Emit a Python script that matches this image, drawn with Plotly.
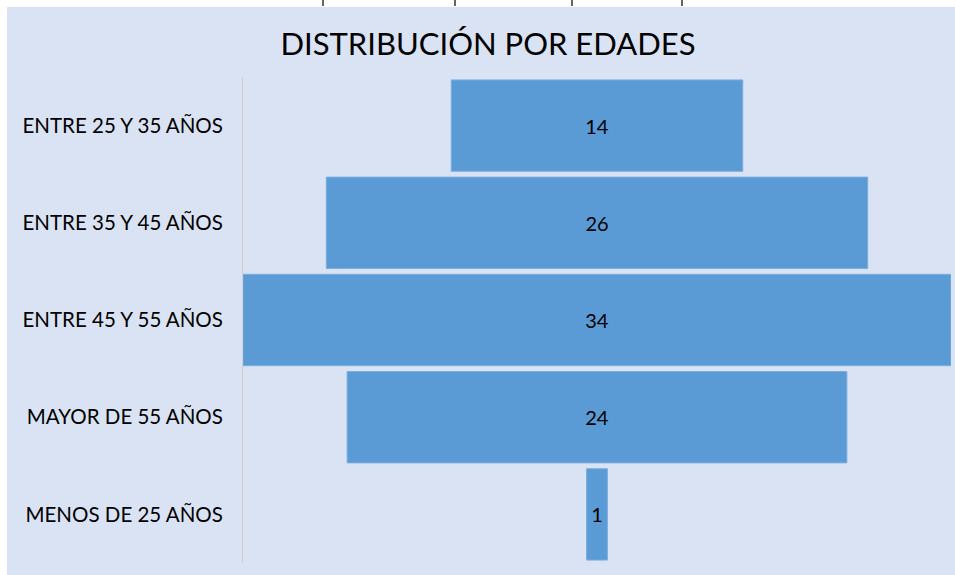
import plotly.graph_objects as go

categories = ["ENTRE 25 Y 35 AÑOS", "ENTRE 35 Y 45 AÑOS", "ENTRE 45 Y 55 AÑOS",
              "MAYOR DE 55 AÑOS", "MENOS DE 25 AÑOS"]
values = [14, 26, 34, 24, 1]
title_text = "DISTRIBUCIÓN POR EDADES"

W, H = 955, 575
L, R, T, B = 243, 4, 77, 12
pw, ph = W - L - R, H - T - B

def px_x(p):
    return (p - L) / pw

def px_y(p):
    return (H - B - p) / ph

fig = go.Figure(go.Funnel(
    y=categories,
    x=values,
    textinfo="value",
    textposition="inside",
    insidetextfont=dict(color="black", size=20, family="Lato"),
    marker=dict(color="#5b9bd5", line=dict(color="#7aaee0", width=1)),
    connector=dict(visible=False),
    hoverinfo="y+x",
))

shapes = [
    dict(type="rect", xref="paper", yref="paper", x0=px_x(0), x1=px_x(W),
         y0=px_y(0), y1=px_y(7), fillcolor="white", line=dict(width=0), layer="above"),
    dict(type="rect", xref="paper", yref="paper", x0=px_x(0), x1=px_x(7),
         y0=px_y(H), y1=px_y(0), fillcolor="white", line=dict(width=0), layer="above"),
]
for tx in [323, 455, 572, 682]:
    shapes.append(dict(type="line", xref="paper", yref="paper", x0=px_x(tx), x1=px_x(tx),
                       y0=px_y(6), y1=px_y(0), line=dict(color="#333333", width=1.5), layer="above"))

fig.update_layout(
    width=W, height=H,
    margin=dict(l=L, r=R, t=T, b=B, pad=0),
    paper_bgcolor="#dae3f3",
    plot_bgcolor="#dae3f3",
    title=dict(text=title_text, x=px_x(488), xanchor="center", xref="paper",
               y=1 - 44 / H, yanchor="middle",
               font=dict(family="Lato", size=31, color="black")),
    funnelgap=0.06,
    showlegend=False,
    shapes=shapes,
    font=dict(family="Lato"),
)
fig.update_xaxes(range=[-17, 17], visible=False, fixedrange=True)
fig.update_yaxes(showline=True, linecolor="#d0d0d0", linewidth=1, ticks="",
                 tickfont=dict(family="Lato", size=20.5, color="black"),
                 ticklabelstandoff=15, showgrid=False, fixedrange=True)

fig.write_html("out.html", config={"displayModeBar": False},
               post_script="document.body.style.margin='0';document.body.style.padding='0';")
